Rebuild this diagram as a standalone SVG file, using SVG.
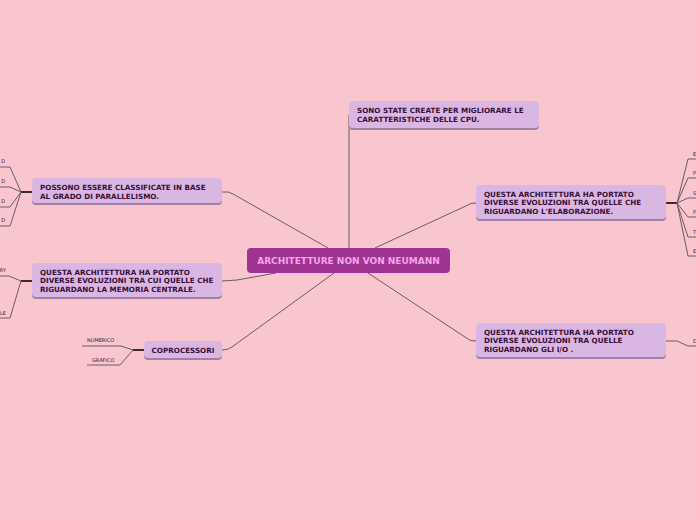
<svg xmlns="http://www.w3.org/2000/svg" width="696" height="520" viewBox="0 0 696 520">
<style>
.bg{fill:#f9c6d0}
.conn{fill:none;stroke:#6e5a62;stroke-width:1}
.junc{fill:none;stroke:#3c2a32;stroke-width:2}
.box{fill:#dab6e2}
.shadow{fill:#a27fa6}
.t{font-family:"DejaVu Sans",Verdana,sans-serif;font-weight:bold;font-size:7.2px;fill:#3a1038}
.main{font-family:"DejaVu Sans",Verdana,sans-serif;font-weight:bold;font-size:9px;fill:#f3a6e6}
.s{font-family:"DejaVu Sans",Verdana,sans-serif;font-size:5px;fill:#3a1a2a}
</style>
<rect class="bg" x="0" y="0" width="696" height="520"/>
<g id="connectors">
<path class="conn" d="M349,115 L349,248"/>
<path class="conn" d="M375,248 L468,205 Q470,203 476,203"/>
<path class="conn" d="M368,273 L468,339 Q470,341 476,341"/>
<path class="conn" d="M222,192 Q229,191 233,194 L328,248"/>
<path class="conn" d="M222,281 L237,280 L276,273"/>
<path class="conn" d="M222,350 Q228,350 232,347 L334,273"/>
<path class="junc" d="M21,192 L32,192"/>
<path class="conn" d="M21,192 L10,167 L0,167 M21,192 L10,187 L0,187 M21,192 L10,207 L0,207 M21,192 L10,226 L0,226"/>
<path class="junc" d="M21,281 L32,281"/>
<path class="conn" d="M21,281 L9,276 L0,276 M21,281 L10,318 L0,318"/>
<path class="junc" d="M666,203 L677,203"/>
<path class="conn" d="M677,203 L688,159 L696,159 M677,203 L688,178 L696,178 M677,203 L688,198 L696,198 M677,203 L688,217 L696,217 M677,203 L688,237 L696,237 M677,203 L688,256 L696,256"/>
<path class="conn" d="M666,341 L677,341 L688,346 L696,346"/>
<path class="junc" d="M133,350 L144,350"/>
<path class="conn" d="M133,350 L121,346 L82,346 M133,350 L120,365 L87,365"/>
</g>
<g id="central">
<rect x="247" y="248" width="203" height="25" rx="4" fill="#a03492"/>
<text class="main" x="348.5" y="264.3" text-anchor="middle">ARCHITETTURE NON VON NEUMANN</text>
</g>
<g id="n-top">
<rect class="shadow" x="349" y="103" width="190" height="27" rx="4"/>
<rect class="box" x="349" y="101" width="190" height="27" rx="4"/>
<text class="t" x="357" y="113">SONO STATE CREATE PER MIGLIORARE LE</text>
<text class="t" x="357" y="122">CARATTERISTICHE DELLE CPU.</text>
</g>
<g id="n-right1">
<rect class="shadow" x="476" y="187" width="190" height="34" rx="4"/>
<rect class="box" x="476" y="185" width="190" height="34" rx="4"/>
<text class="t" x="484" y="196.5">QUESTA ARCHITETTURA HA PORTATO</text>
<text class="t" x="484" y="205">DIVERSE EVOLUZIONI TRA QUELLE CHE</text>
<text class="t" x="484" y="213.7">RIGUARDANO L'ELABORAZIONE.</text>
</g>
<g id="n-right2">
<rect class="shadow" x="476" y="325" width="190" height="34" rx="4"/>
<rect class="box" x="476" y="323" width="190" height="34" rx="4"/>
<text class="t" x="484" y="334.5">QUESTA ARCHITETTURA HA PORTATO</text>
<text class="t" x="484" y="343">DIVERSE EVOLUZIONI TRA QUELLE</text>
<text class="t" x="484" y="351.7">RIGUARDANO GLI I/O .</text>
</g>
<g id="n-left1">
<rect class="shadow" x="32" y="180" width="190" height="25" rx="4"/>
<rect class="box" x="32" y="178" width="190" height="25" rx="4"/>
<text class="t" x="40" y="190">POSSONO ESSERE CLASSIFICATE IN BASE</text>
<text class="t" x="40" y="198.5">AL GRADO DI PARALLELISMO.</text>
</g>
<g id="n-left2">
<rect class="shadow" x="32" y="265" width="190" height="34" rx="4"/>
<rect class="box" x="32" y="263" width="190" height="34" rx="4"/>
<text class="t" x="40" y="274.5">QUESTA ARCHITETTURA HA PORTATO</text>
<text class="t" x="40" y="283">DIVERSE EVOLUZIONI TRA CUI QUELLE CHE</text>
<text class="t" x="40" y="291.7">RIGUARDANO LA MEMORIA CENTRALE.</text>
</g>
<g id="n-coprocessori">
<rect class="shadow" x="144" y="343" width="78" height="17" rx="4"/>
<rect class="box" x="144" y="341" width="78" height="17" rx="4"/>
<text class="t" x="183" y="352.5" text-anchor="middle">COPROCESSORI</text>
</g>
<g id="leaf-left1">
<text class="s" x="5" y="163" text-anchor="end">D</text>
<text class="s" x="5" y="183" text-anchor="end">D</text>
<text class="s" x="5" y="202.5" text-anchor="end">D</text>
<text class="s" x="5" y="222" text-anchor="end">D</text>
</g>
<g id="leaf-left2">
<text class="s" x="6" y="272" text-anchor="end">RY</text>
<text class="s" x="6" y="315" text-anchor="end">LE</text>
</g>
<g id="leaf-coprocessori">
<text class="s" x="87" y="342">NUMERICO</text>
<text class="s" x="92" y="361.5">GRAFICO</text>
</g>
<g id="leaf-right1">
<text class="s" x="693" y="156">E</text>
<text class="s" x="693" y="175">P</text>
<text class="s" x="693" y="195">S</text>
<text class="s" x="693" y="214">P</text>
<text class="s" x="693" y="234">T</text>
<text class="s" x="693" y="252.5">E</text>
</g>
<g id="leaf-right2">
<text class="s" x="693" y="343">D</text>
</g>
</svg>
